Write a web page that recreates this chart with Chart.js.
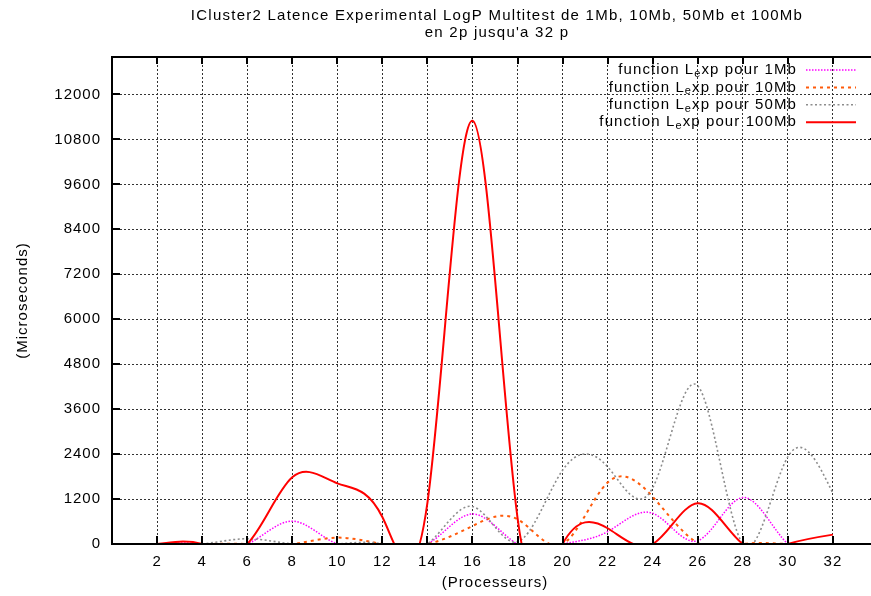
<!DOCTYPE html>
<html>
<head>
<meta charset="utf-8">
<title>ICluster2 Latence Experimental LogP</title>
<script src="https://cdn.jsdelivr.net/npm/chart.js@4.4.1/dist/chart.umd.min.js"></script>
<style>
  html, body { margin: 0; padding: 0; background: #fff; overflow: hidden; }
  #wrap { width: 871px; height: 596px; overflow: hidden; }
  canvas { display: block; }
</style>
</head>
<body>
<div id="wrap"><canvas id="latence" width="892" height="596"></canvas></div>
<script>
// nombre de processeurs, de 2p jusqu'a 32p
const processeurs = [2, 4, 6, 8, 10, 12, 14, 16, 18, 20, 22, 24, 26, 28, 30, 32];
const yTicks = [0, 1200, 2400, 3600, 4800, 6000, 7200, 8400, 9600, 10800, 12000];
const tailles = ['1Mb', '10Mb', '50Mb', '100Mb'];

// latence mesuree (microsecondes)
const lat1Mb   = [0, 0, 0, 610, 0, 0, 0, 800, 0, 0, 330, 820, 90, 1240, 0, 0];
const lat10Mb  = [0, 0, 0, 0, 170, 0, 0, 480, 660, 0, 1640, 1260, 30, 0, 0, 0];
const lat50Mb  = [0, 0, 140, 0, 0, 0, 0, 1000, 60, 1970, 2060, 1500, 4220, 0, 2330, 1350];
const lat100Mb = [0, 0, 0, 1780, 1620, 720, 1100, 11300, 700, 0, 420, 0, 1090, 0, 0, 250];

const FONT = 'Liberation Sans, Arial, Helvetica, sans-serif';

// natural cubic spline (like gnuplot "smooth csplines"), written into
// the bezier control points of the line's point elements
function csplineControls(points) {
  const n = points.length;
  if (n < 3) return;
  const h = [];
  for (let i = 0; i < n - 1; i++) h[i] = points[i + 1].x - points[i].x;
  const m = new Array(n).fill(0);
  const b = [], c = [], d = [];
  for (let i = 1; i < n - 1; i++) {
    b[i] = 2 * (h[i - 1] + h[i]);
    c[i] = h[i];
    d[i] = 6 * ((points[i + 1].y - points[i].y) / h[i] - (points[i].y - points[i - 1].y) / h[i - 1]);
  }
  for (let i = 2; i < n - 1; i++) {
    const w = h[i - 1] / b[i - 1];
    b[i] -= w * c[i - 1];
    d[i] -= w * d[i - 1];
  }
  for (let i = n - 2; i >= 1; i--) m[i] = (d[i] - c[i] * m[i + 1]) / b[i];
  for (let i = 0; i < n - 1; i++) {
    const p = points[i], q = points[i + 1], hi = h[i];
    const slope = (q.y - p.y) / hi;
    const d0 = slope - hi * (2 * m[i] + m[i + 1]) / 6;
    const d1 = slope + hi * (m[i] + 2 * m[i + 1]) / 6;
    p.cp2x = p.x + hi / 3; p.cp2y = p.y + d0 * hi / 3;
    q.cp1x = q.x - hi / 3; q.cp1y = q.y - d1 * hi / 3;
  }
}

const csplines = {
  id: 'csplines',
  beforeDraw(chart) {
    chart.ctx.letterSpacing = '1px';
  },
  beforeDatasetDraw(chart, args) {
    const meta = args.meta;
    meta.dataset.updateControlPoints(chart.chartArea, meta.iScale.axis);
    csplineControls(meta.data);
  }
};

// axis frame with inward tick marks
const cadre = {
  id: 'cadre',
  afterDatasetsDraw(chart) {
    const { ctx, chartArea: a, scales: { x, y } } = chart;
    ctx.save();
    ctx.strokeStyle = '#000';
    ctx.lineWidth = 2;
    ctx.strokeRect(a.left, a.top, a.right - a.left, a.bottom - a.top);
    ctx.beginPath();
    processeurs.forEach(v => {
      const px = Math.round(x.getPixelForValue(v));
      ctx.moveTo(px, a.bottom); ctx.lineTo(px, a.bottom - 8);
      ctx.moveTo(px, a.top); ctx.lineTo(px, a.top + 7);
    });
    yTicks.slice(1).forEach(v => {
      const py = Math.round(y.getPixelForValue(v));
      ctx.moveTo(a.left, py); ctx.lineTo(a.left + 8, py);
      ctx.moveTo(a.right, py); ctx.lineTo(a.right - 8, py);
    });
    ctx.stroke();
    ctx.restore();
  }
};

// two-line title and the legend with the subscript "e"
const textes = {
  id: 'textes',
  afterDraw(chart) {
    const { ctx, chartArea: a } = chart;
    ctx.save();
    ctx.fillStyle = '#000';
    ctx.textBaseline = 'middle';
    ctx.textAlign = 'center';
    ctx.font = '15px ' + FONT;
    ctx.letterSpacing = '1.25px';
    const cx = (a.left + a.right) / 2 + 2;
    ctx.fillText('ICluster2 Latence Experimental LogP Multitest de 1Mb, 10Mb, 50Mb et 100Mb', cx, 16);
    ctx.fillText("en 2p jusqu'a 32 p", cx, 33);

    ctx.textAlign = 'left';
    ctx.letterSpacing = '1.1px';
    const right = a.right - 81;
    chart.data.datasets.forEach((ds, i) => {
      const yRow = 70 + i * 17.4;
      ctx.font = '15px ' + FONT;
      const t1 = 'function L', t3 = 'xp pour ' + tailles[i];
      const w1 = ctx.measureText(t1).width, w3 = ctx.measureText(t3).width;
      ctx.font = '11px ' + FONT;
      const w2 = ctx.measureText('e').width;
      const xs = right - (w1 + w2 + w3);
      ctx.font = '15px ' + FONT;
      ctx.fillText(t1, xs, yRow);
      ctx.font = '11px ' + FONT;
      ctx.fillText('e', xs + w1, yRow + 4);
      ctx.font = '15px ' + FONT;
      ctx.fillText(t3, xs + w1 + w2, yRow);

      ctx.beginPath();
      ctx.strokeStyle = ds.borderColor;
      ctx.lineWidth = ds.borderWidth;
      ctx.setLineDash(ds.borderDash || []);
      ctx.moveTo(a.right - 72, yRow);
      ctx.lineTo(a.right - 22, yRow);
      ctx.stroke();
      ctx.setLineDash([]);
    });
    ctx.restore();
  }
};

const serie = (label, data, color, width, dash, order) => ({
  label,
  data: processeurs.map((p, i) => ({ x: p, y: data[i] })),
  borderColor: color,
  borderWidth: width,
  borderDash: dash,
  pointRadius: 0,
  tension: 0.4,
  clip: 0,
  order
});

new Chart(document.getElementById('latence'), {
  type: 'line',
  data: {
    datasets: [
      serie('function Lexp pour 1Mb', lat1Mb, '#ff00ff', 1.5, [1.5, 1.5], 3),
      serie('function Lexp pour 10Mb', lat10Mb, '#ff5a0a', 2, [3, 4], 2),
      serie('function Lexp pour 50Mb', lat50Mb, '#8c8c8c', 1.6, [2, 2.5], 1),
      serie('function Lexp pour 100Mb', lat100Mb, '#ff0000', 2, [], 0)
    ]
  },
  options: {
    responsive: false,
    animation: false,
    events: [],
    layout: { padding: { top: 57, right: 14, left: 0, bottom: 0 } },
    elements: { line: { capBezierPoints: false } },
    plugins: { legend: { display: false }, title: { display: false }, tooltip: { enabled: false } },
    scales: {
      x: {
        type: 'linear',
        min: 0,
        max: 34,
        afterBuildTicks: s => { s.ticks = processeurs.map(v => ({ value: v })); },
        afterFit: s => { s.height = 52; },
        grid: { color: '#333', lineWidth: 1, drawTicks: false },
        border: { display: false, dash: [2, 2] },
        ticks: { color: '#000', font: { family: FONT, size: 15 }, padding: 9, maxRotation: 0, callback: v => String(v) },
        title: { display: true, text: '(Processeurs)', color: '#000', font: { family: FONT, size: 15 }, padding: { top: 0, bottom: 4 } }
      },
      y: {
        min: 0,
        max: 13000,
        afterBuildTicks: s => { s.ticks = yTicks.map(v => ({ value: v })); },
        afterFit: s => { s.width = 112; },
        grid: { color: '#333', lineWidth: 1, drawTicks: false },
        border: { display: false, dash: [2, 2] },
        ticks: { color: '#000', font: { family: FONT, size: 15 }, padding: 11, callback: v => String(v) },
        title: { display: true, text: '(Microseconds)', color: '#000', font: { family: FONT, size: 15 }, padding: { top: 14, bottom: 0 } }
      }
    }
  },
  plugins: [csplines, cadre, textes]
});
</script>
</body>
</html>
